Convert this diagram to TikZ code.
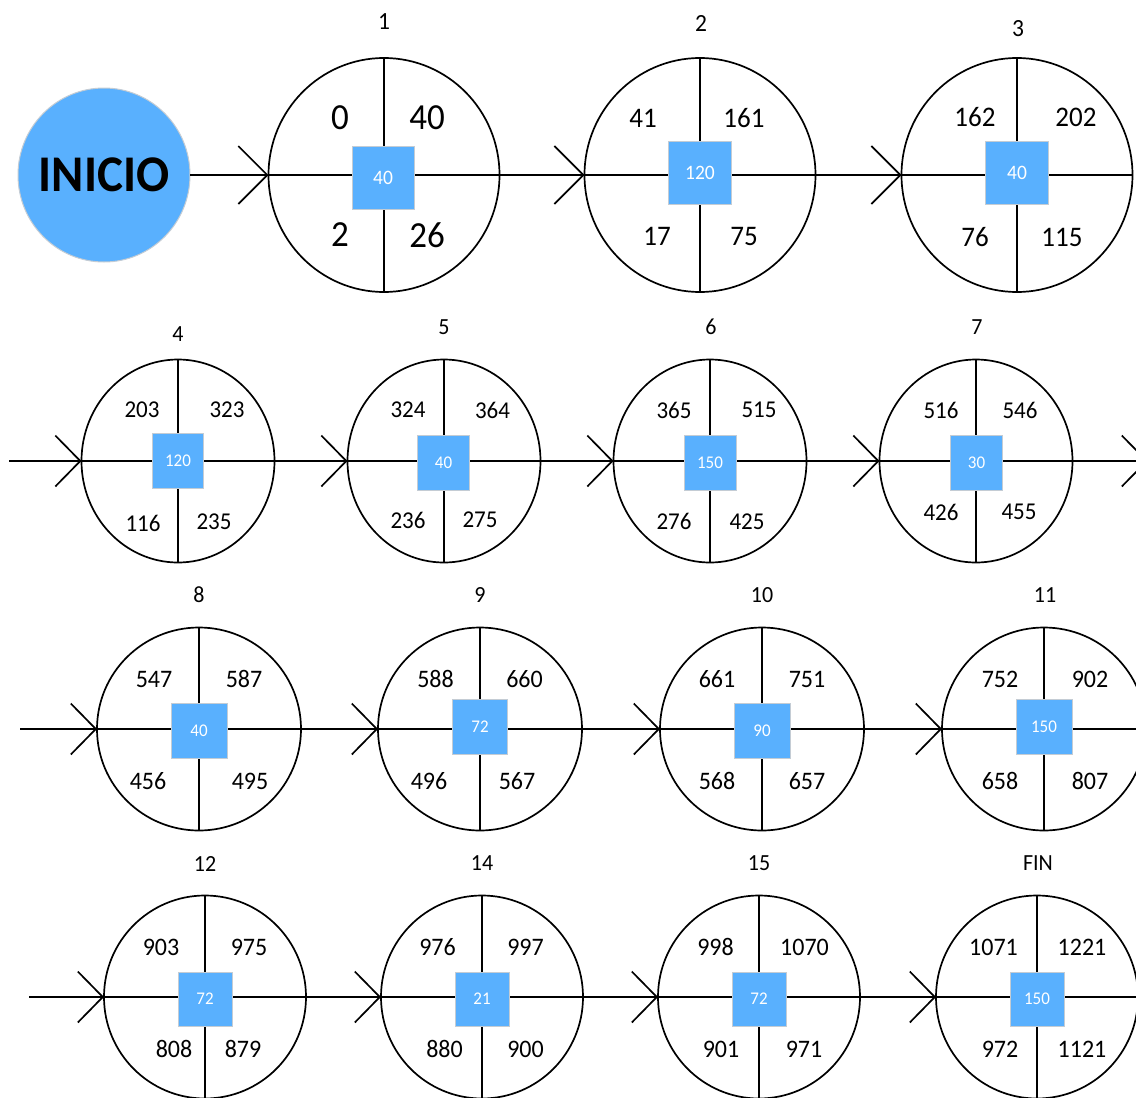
\documentclass[tikz,border=0pt]{standalone}
\usepackage{fontspec}
\setmainfont{Carlito}
\usepackage{graphicx}
\usetikzlibrary{shapes.geometric,arrows.meta}
\definecolor{actblue}{RGB}{89,176,254}
\definecolor{boxedge}{RGB}{196,204,212}
\newcommand\fsz[1]{\fontsize{#1}{#1}\selectfont}
\newcommand\st[1]{\scalebox{1}[1.05]{#1}}
% activity: name, center, w, h, box center, box w, box h, duration, box font size
\newcommand\act[9]{%
  \node[ring, minimum width=#3pt, minimum height=#4pt] (#1) at #2 {};
  \draw[divline] (#1.north) -- (#1.south);
  \draw[divline] (#1.west) -- (#1.east);
  \node[durbox, minimum width=#6pt, minimum height=#7pt, font=\fsz{#9}] (#1box) at #5 {#8};
}
\newcommand\tx[4]{\node[num, font=\fsz{#1}] (#2) at #3 {\st{#4}};}
\begin{document}
\begin{tikzpicture}[x=1pt,y=-1pt,
  ring/.style={ellipse, draw, line width=1.7pt, inner sep=0pt, outer sep=0pt},
  divline/.style={line width=1.7pt},
  durbox/.style={rectangle, fill=actblue, draw=boxedge, line width=0.8pt, text=white, inner sep=0pt, outer sep=0pt},
  num/.style={inner sep=0pt, outer sep=0pt},
  flowA/.style={line width=1.7pt, -{Straight Barb[length=29pt,width=58pt]}},
  flowB/.style={line width=1.7pt, -{Straight Barb[length=25pt,width=51pt]}},
]
\clip (0,0) rectangle (1136,1098);
\fill[white] (0,0) rectangle (1136,1098);

% ---------- Row 1 ----------
\node[ellipse, fill=actblue, draw=boxedge, line width=1pt, minimum width=172pt, minimum height=174pt, inner sep=0pt, outer sep=0pt] (inicio) at (104,175) {};
\node[num, font=\fsz{49}\bfseries] (iniciotxt) at (inicio.center) {\st{INICIO}};

\act{c1}{(384,175)}{231}{234}{(383,177.5)}{62}{63}{\st{40}}{19.5}
\tx{35}{c1a}{(340,118)}{0}
\tx{35}{c1b}{(427,118)}{40}
\tx{35}{c1c}{(340,235)}{2}
\tx{35}{c1d}{(427,235)}{26}
\tx{23.5}{l1}{(384,22)}{1}

\act{c2}{(700,175)}{231}{234}{(700,172.5)}{63}{63}{\st{120}}{19.5}
\tx{27}{c2a}{(643,118)}{41}
\tx{27}{c2b}{(744,118)}{161}
\tx{27}{c2c}{(657,236)}{17}
\tx{27}{c2d}{(744,236)}{75}
\tx{23.5}{l2}{(701,23)}{2}

\act{c3}{(1017,175)}{231}{234}{(1017,172.5)}{63}{63}{\st{40}}{19.5}
\tx{27}{c3a}{(975,117)}{162}
\tx{27}{c3b}{(1076,117)}{202}
\tx{27}{c3c}{(975,237)}{76}
\tx{27}{c3d}{(1062,237)}{115}
\tx{23.5}{l3}{(1018,29)}{3}

\draw[flowA] (inicio.east) -- (c1.west);
\draw[flowA] (c1.east) -- (c2.west);
\draw[flowA] (c2.east) -- (c3.west);

% ---------- Row 2 ----------
\act{c4}{(178,461)}{193}{203}{(178,460.5)}{51}{55}{\st{120}}{17}
\tx{23}{c4a}{(142,410)}{203}
\tx{23}{c4b}{(227,410)}{323}
\tx{23}{c4c}{(143,523)}{116}
\tx{23}{c4d}{(214,522)}{235}
\tx{22}{l4}{(178,334)}{4}

\act{c5}{(444,461)}{193}{203}{(443.5,462.5)}{52}{55}{\st{40}}{17}
\tx{23}{c5a}{(408,410)}{324}
\tx{23}{c5b}{(492.5,410)}{364}
\tx{23}{c5c}{(408,520)}{236}
\tx{23}{c5d}{(480,520)}{275}
\tx{22}{l5}{(444,327)}{5}

\act{c6}{(710,461)}{193}{203}{(710,462.5)}{52}{55}{\st{150}}{17}
\tx{23}{c6a}{(674,410)}{365}
\tx{23}{c6b}{(759,410)}{515}
\tx{23}{c6c}{(674,521)}{276}
\tx{23}{c6d}{(747,522)}{425}
\tx{22}{l6}{(711,327)}{6}

\act{c7}{(976,461)}{193}{203}{(976.5,462.5)}{52}{55}{\st{30}}{17}
\tx{23}{c7a}{(941,410)}{516}
\tx{23}{c7b}{(1020,410)}{546}
\tx{23}{c7c}{(941,512)}{426}
\tx{23}{c7d}{(1019,512)}{455}
\tx{22}{l7}{(977,327)}{7}

\coordinate (r2in) at (9,461);
\coordinate (r2out) at (1148,461);
\draw[flowB] (r2in) -- (c4.west);
\draw[flowB] (c4.east) -- (c5.west);
\draw[flowB] (c5.east) -- (c6.west);
\draw[flowB] (c6.east) -- (c7.west);
\draw[flowB] (c7.east) -- (r2out);

% ---------- Row 3 ----------
\act{c8}{(199,729)}{204}{203}{(199,730.5)}{56}{55}{\st{40}}{17}
\tx{24}{c8a}{(154,679)}{547}
\tx{24}{c8b}{(244,679)}{587}
\tx{24}{c8c}{(148,781)}{456}
\tx{24}{c8d}{(250,781)}{495}
\tx{22}{l8}{(199,595)}{8}

\act{c9}{(480,729)}{204}{203}{(480,726.5)}{55}{55}{\st{72}}{17}
\tx{24}{c9a}{(435.5,679)}{588}
\tx{24}{c9b}{(524.5,679)}{660}
\tx{24}{c9c}{(429,781)}{496}
\tx{24}{c9d}{(517,781)}{567}
\tx{22}{l9}{(480,595)}{9}

\act{c10}{(762,729)}{204}{203}{(762,730.5)}{56}{55}{\st{90}}{17}
\tx{24}{c10a}{(717,679)}{661}
\tx{24}{c10b}{(807,679)}{751}
\tx{24}{c10c}{(717,781)}{568}
\tx{24}{c10d}{(807,781)}{657}
\tx{22}{l10}{(762,595)}{10}

\act{c11}{(1044,729)}{204}{203}{(1044,726.5)}{56}{55}{\st{150}}{17}
\tx{24}{c11a}{(1000,679)}{752}
\tx{24}{c11b}{(1090,679)}{902}
\tx{24}{c11c}{(1000,781)}{658}
\tx{24}{c11d}{(1090,781)}{807}
\tx{22}{l11}{(1045,595)}{11}

\coordinate (r3in) at (20,729);
\draw[flowB] (r3in) -- (c8.west);
\draw[flowB] (c8.east) -- (c9.west);
\draw[flowB] (c9.east) -- (c10.west);
\draw[flowB] (c10.east) -- (c11.west);

% ---------- Row 4 ----------
\act{c12}{(205,997)}{202}{203}{(205,999)}{54}{54}{\st{72}}{17}
\tx{24}{c12a}{(161,947)}{903}
\tx{24}{c12b}{(249,947)}{975}
\tx{24}{c12c}{(174,1049)}{808}
\tx{24}{c12d}{(243,1049)}{879}
\tx{22}{l12}{(205,864)}{12}

\act{c14}{(482,997)}{202}{203}{(482,999)}{54}{54}{\st{21}}{17}
\tx{24}{c14a}{(437.5,947)}{976}
\tx{24}{c14b}{(525.5,947)}{997}
\tx{24}{c14c}{(444.5,1049)}{880}
\tx{24}{c14d}{(525.5,1049)}{900}
\tx{22}{l14}{(482,863)}{14}

\act{c15}{(759,997)}{202}{203}{(759,999)}{54}{54}{\st{72}}{17}
\tx{24}{c15a}{(715.5,947)}{998}
\tx{24}{c15b}{(804.5,947)}{1070}
\tx{24}{c15c}{(721,1049)}{901}
\tx{24}{c15d}{(804,1049)}{971}
\tx{22}{l15}{(759,863)}{15}

\act{cfin}{(1037,997)}{202}{203}{(1037,999)}{54}{54}{\st{150}}{17}
\tx{24}{cfina}{(993.5,947)}{1071}
\tx{24}{cfinb}{(1082,947)}{1221}
\tx{24}{cfinc}{(1000,1049)}{972}
\tx{24}{cfind}{(1082,1049)}{1121}
\tx{22}{lfin}{(1038,863)}{FIN}

\coordinate (r4in) at (29,997);
\draw[flowB] (r4in) -- (c12.west);
\draw[flowB] (c12.east) -- (c14.west);
\draw[flowB] (c14.east) -- (c15.west);
\draw[flowB] (c15.east) -- (cfin.west);
\end{tikzpicture}
\end{document}
